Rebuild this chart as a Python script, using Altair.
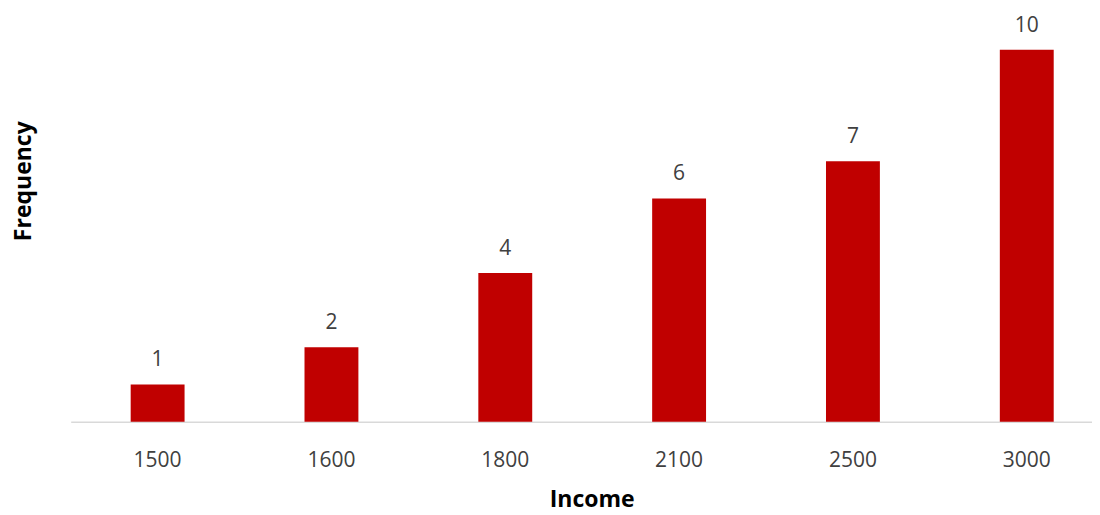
import altair as alt
import pandas as pd

income = ["1500", "1600", "1800", "2100", "2500", "3000"]
frequency = [1, 2, 4, 6, 7, 10]

df = pd.DataFrame({"Income": income, "Frequency": frequency})

FONT = "Open Sans"
TEXT = "#404040"

base = alt.Chart(df).encode(
    x=alt.X(
        "Income:N",
        sort=income,
        scale=alt.Scale(range=[0, 1043], paddingInner=0.69, paddingOuter=0.345),
        axis=alt.Axis(
            title="Income",
            labelAngle=0,
            ticks=False,
            tickSize=0,
            labelPadding=45,
            labelBaseline="alphabetic",
            labelFont=FONT,
            labelFontSize=21,
            labelColor=TEXT,
            domainColor="#D9D9D9",
            domainWidth=1.5,
            titleFont=FONT,
            titleFontSize=23,
            titleFontWeight="bold",
            titleColor="#000000",
            titleX=521,
            titleY=85,
            titleAlign="center",
            titleBaseline="alphabetic",
        ),
    ),
    y=alt.Y(
        "Frequency:Q",
        scale=alt.Scale(domain=[0, 10], nice=False, zero=True),
        axis=alt.Axis(
            title="Frequency",
            labels=False,
            ticks=False,
            domain=False,
            grid=False,
            titleFont=FONT,
            titleFontSize=23,
            titleFontWeight="bold",
            titleColor="#000000",
            titleAngle=270,
            titleX=-47,
            titleY=131,
            titleAlign="center",
            titleBaseline="middle",
        ),
    ),
)

bars = base.mark_bar(color="#C00000")
labels = base.mark_text(
    dy=-18, baseline="alphabetic", fontSize=21, font=FONT, color=TEXT
).encode(text="Frequency:Q")

chart = (
    (bars + labels)
    .properties(
        width=1021,
        height=372,
        autosize=alt.AutoSizeParams(type="none"),
        padding={"left": 62.7, "top": 41.7, "right": 0, "bottom": 91},
        view=alt.ViewConfig(stroke="transparent"),
    )
    .configure_view(stroke="transparent")
    .configure(background="white")
)

chart.save("out.html", embed_options={"renderer": "svg", "actions": False})
